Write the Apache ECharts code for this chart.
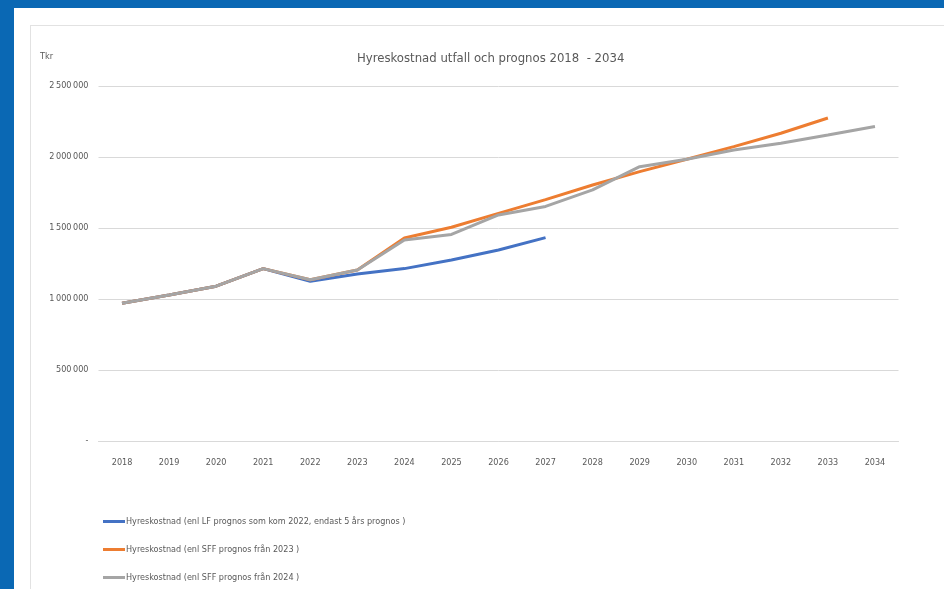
<!DOCTYPE html>
<html>
<head>
<meta charset="utf-8">
<script src="https://cdn.jsdelivr.net/npm/echarts@6/dist/echarts.min.js"></script>
<style>
  html, body { margin: 0; padding: 0; width: 944px; height: 589px; overflow: hidden; background: #0a68b4; }
  #panel { position: absolute; left: 14px; top: 8px; width: 940px; height: 590px; background: #fff; }
  #frame { position: absolute; left: 30px; top: 25px; width: 930px; height: 580px; border: 1px solid #e2e2e2; background: #fff; }
  #chart { position: absolute; left: 0; top: 0; width: 944px; height: 589px; }
</style>
</head>
<body>
<div id="panel"></div>
<div id="frame"></div>
<div id="chart"></div>
<script>
var years = ['2018', '2019', '2020', '2021', '2022', '2023', '2024', '2025', '2026',
    '2027', '2028', '2029', '2030', '2031', '2032', '2033', '2034'];

// Hyreskostnad (enl LF prognos som kom 2022, endast 5 års prognos)
var lfData = [970000, 1028000, 1090000, 1214000, 1125000, 1176000, 1214000, 1275000, 1345000, 1432000,
    null, null, null, null, null, null, null];
// Hyreskostnad (enl SFF prognos från 2023)
var sff23Data = [970000, 1028000, 1090000, 1214000, 1135000, 1204000, 1430000, 1505000, 1603000, 1700000,
    1803000, 1897000, 1984000, 2073000, 2167000, 2275000, null];
// Hyreskostnad (enl SFF prognos från 2024)
var sff24Data = [970000, 1028000, 1090000, 1214000, 1135000, 1204000, 1415000, 1455000, 1592000, 1652000,
    1768000, 1932000, 1984000, 2049000, 2097000, 2155000, 2215000];

var names = [
    'Hyreskostnad (enl LF prognos som kom 2022, endast 5 års prognos )',
    'Hyreskostnad (enl SFF prognos från 2023 )',
    'Hyreskostnad (enl SFF prognos från 2024 )'
];
var colors = ['#4472c4', '#ed7d31', '#a5a5a5'];

var font = "'Liberation Sans Narrow', 'DejaVu Sans Condensed', sans-serif";

function fmt(v) {
    if (v === 0) return '-';
    return String(v).replace(/\B(?=(\d{3})+(?!\d))/g, '\u2009');
}

var myChart = echarts.init(document.getElementById('chart'));

var option = {
    backgroundColor: 'transparent',
    color: colors,
    textStyle: { fontFamily: font },
    title: {
        text: 'Hyreskostnad utfall och prognos 2018  - 2034',
        left: 352,
        top: 47,
        textStyle: { fontFamily: font, fontSize: 13, fontWeight: 'normal', color: '#595959' }
    },
    graphic: [{
        type: 'text',
        left: 40,
        top: 52,
        style: { text: 'Tkr', fontFamily: font, fontSize: 9, fill: '#595959' }
    }],
    grid: { left: 98.5, right: 45.5, top: 86, bottom: 148 },
    legend: {
        orient: 'vertical',
        left: 98,
        top: 512,
        itemGap: 19,
        itemWidth: 22,
        itemHeight: 3,
        icon: 'rect',
        textStyle: { fontFamily: font, fontSize: 9, color: '#595959', padding: [0, 0, 0, -4] },
        data: names
    },
    xAxis: {
        type: 'category',
        data: years,
        boundaryGap: true,
        axisLine: { lineStyle: { color: '#d9d9d9', width: 1 } },
        axisTick: { show: false },
        axisLabel: { fontFamily: font, fontSize: 9, color: '#595959', margin: 17 }
    },
    yAxis: {
        type: 'value',
        min: 0,
        max: 2500000,
        interval: 500000,
        axisLine: { show: false },
        axisTick: { show: false },
        splitLine: { lineStyle: { color: '#d9d9d9', width: 1 } },
        axisLabel: { fontFamily: font, fontSize: 9, color: '#595959', margin: 10, formatter: fmt }
    },
    series: [
        { name: names[0], type: 'line', data: lfData, symbol: 'none', lineStyle: { width: 3 } },
        { name: names[1], type: 'line', data: sff23Data, symbol: 'none', lineStyle: { width: 3 } },
        { name: names[2], type: 'line', data: sff24Data, symbol: 'none', lineStyle: { width: 3 } }
    ]
};
myChart.setOption(option);
</script>
</body>
</html>
